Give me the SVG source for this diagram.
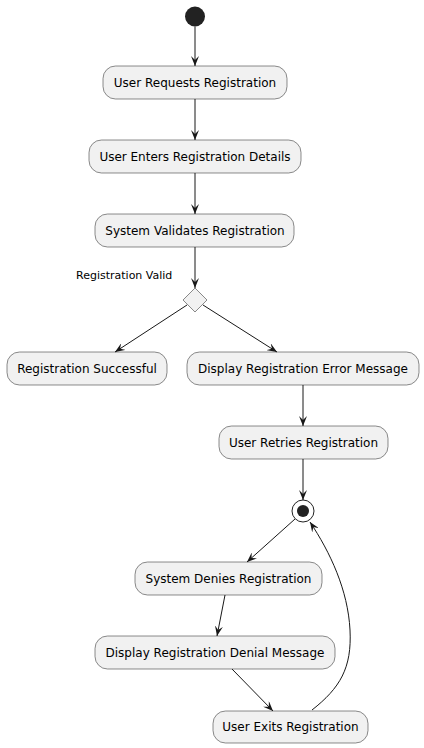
<svg xmlns="http://www.w3.org/2000/svg" width="424" height="748" viewBox="0 0 424 748">
<style>
.box{fill:#F1F1F1;stroke:#181818;stroke-width:0.5}
.t{font-family:"DejaVu Sans",sans-serif;font-size:12px;fill:#000;text-anchor:middle}
.l{font-family:"DejaVu Sans",sans-serif;font-size:11px;fill:#000}
.c{fill:none;stroke:#181818;stroke-width:1}
</style>
<defs>
<marker id="ah" viewBox="0 0 10 8" refX="10" refY="4" markerWidth="10" markerHeight="8" markerUnits="userSpaceOnUse" orient="auto">
<path d="M0,0 L10,4 L0,8 L4,4 Z" fill="#181818"/>
</marker>
</defs>
<g id="start"><circle cx="195" cy="16.5" r="10" fill="#222222"/></g>
<g id="n1"><rect class="box" x="103" y="66" width="184" height="33" rx="12.5"/><text class="t" x="195" y="87">User Requests Registration</text></g>
<g id="n2"><rect class="box" x="89" y="140" width="212" height="33" rx="12.5"/><text class="t" x="195" y="161">User Enters Registration Details</text></g>
<g id="n3"><rect class="box" x="95" y="214" width="199" height="33" rx="12.5"/><text class="t" x="195" y="235">System Validates Registration</text></g>
<g id="d1"><polygon class="box" points="195,288 207,300 195,312 183,300"/><text class="l" x="76" y="279">Registration Valid</text></g>
<g id="n4"><rect class="box" x="7" y="352" width="160" height="33" rx="12.5"/><text class="t" x="87" y="373">Registration Successful</text></g>
<g id="n5"><rect class="box" x="187" y="352" width="232" height="33" rx="12.5"/><text class="t" x="303" y="373">Display Registration Error Message</text></g>
<g id="n6"><rect class="box" x="219" y="426" width="169" height="33" rx="12.5"/><text class="t" x="303.5" y="447">User Retries Registration</text></g>
<g id="end"><circle cx="303" cy="511" r="11" fill="none" stroke="#222222" stroke-width="1"/><circle cx="303" cy="511" r="6" fill="#222222"/></g>
<g id="n7"><rect class="box" x="135" y="562" width="187" height="33" rx="12.5"/><text class="t" x="228.5" y="583">System Denies Registration</text></g>
<g id="n8"><rect class="box" x="95" y="636" width="240" height="33" rx="12.5"/><text class="t" x="215" y="657">Display Registration Denial Message</text></g>
<g id="n9"><rect class="box" x="213" y="711" width="155" height="32" rx="12.5"/><text class="t" x="290.5" y="731">User Exits Registration</text></g>
<g id="connectors">
<line class="c" x1="195" y1="26.5" x2="195" y2="66" marker-end="url(#ah)"/>
<line class="c" x1="195" y1="99" x2="195" y2="140" marker-end="url(#ah)"/>
<line class="c" x1="195" y1="173" x2="195" y2="214" marker-end="url(#ah)"/>
<line class="c" x1="195" y1="247" x2="195" y2="288" marker-end="url(#ah)"/>
<line class="c" x1="187" y1="305" x2="115" y2="352" marker-end="url(#ah)"/>
<line class="c" x1="203" y1="305" x2="277" y2="352" marker-end="url(#ah)"/>
<line class="c" x1="303" y1="385" x2="303" y2="426" marker-end="url(#ah)"/>
<line class="c" x1="303" y1="459" x2="303" y2="500" marker-end="url(#ah)"/>
<line class="c" x1="295" y1="519" x2="247" y2="562" marker-end="url(#ah)"/>
<line class="c" x1="225" y1="595" x2="217" y2="636" marker-end="url(#ah)"/>
<line class="c" x1="232" y1="669" x2="273" y2="711" marker-end="url(#ah)"/>
<path class="c" d="M312,710 C340,688 352,668 350,630 C348,590 330,552 310,522" marker-end="url(#ah)"/>
</g>
</svg>
